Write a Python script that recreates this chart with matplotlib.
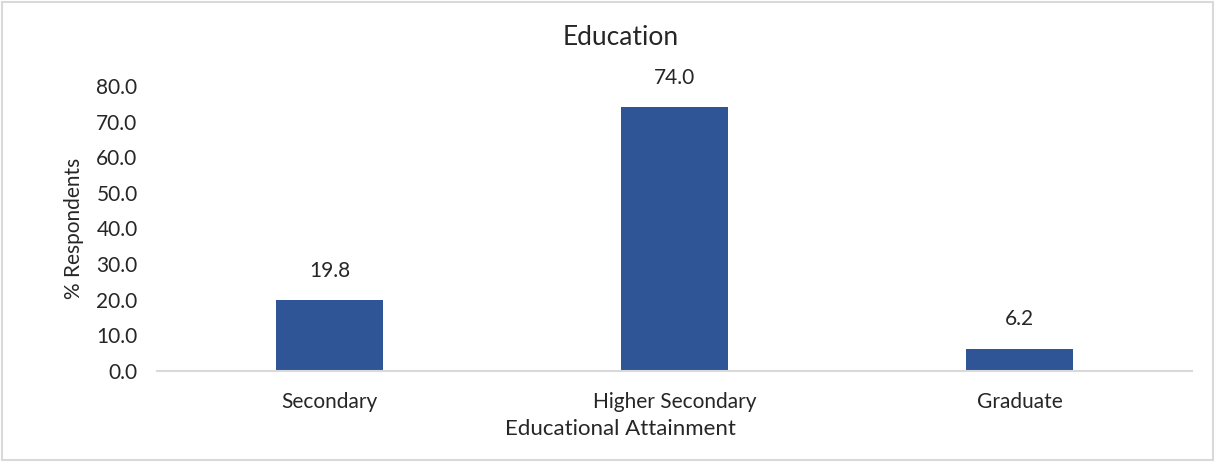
import matplotlib.pyplot as plt
from matplotlib.patches import Rectangle

# Education attainment data
categories = ['Secondary', 'Higher Secondary', 'Graduate']
percentages = [19.8, 74.0, 6.2]

plt.rcParams['font.family'] = ['Lato', 'DejaVu Sans']

fig = plt.figure(figsize=(12.17, 4.62), dpi=100)
ax = fig.add_axes([0.129, 0.197, 0.8505, 0.617])

# Bars
bars = ax.bar(range(len(categories)), percentages, width=0.31, color='#2F5597')

# Value labels above bars
for bar, val in zip(bars, percentages):
    ax.annotate(f'{val:.1f}', (bar.get_x() + bar.get_width() / 2, val),
                xytext=(0, 14), textcoords='offset points',
                ha='center', va='bottom', fontsize=15, color='#262626')

ax.set_xlim(-0.5, len(categories) - 0.5)
ax.set_ylim(0, 80)
ax.set_yticks(range(0, 81, 10))
ax.set_yticklabels([f'{v:.1f}' for v in range(0, 81, 10)])
ax.set_xticks(range(len(categories)))
ax.set_xticklabels(categories)
ax.tick_params(axis='both', length=0, labelsize=15, labelcolor='#262626')
ax.tick_params(axis='x', pad=15)
ax.tick_params(axis='y', pad=14)

for side in ['top', 'right', 'left']:
    ax.spines[side].set_visible(False)
ax.spines['bottom'].set_color('#D9D9D9')
ax.spines['bottom'].set_linewidth(1.5)

# Title and axis labels
fig.text(0.51, 0.918, 'Education', ha='center', va='center', fontsize=19, color='#262626')
fig.text(0.51, 0.072, 'Educational Attainment', ha='center', va='center', fontsize=16, color='#262626')
fig.text(0.061, 0.505, '% Respondents', ha='center', va='center', rotation=90, fontsize=15, color='#262626')

# Chart border
fig.patches.append(Rectangle((0.002, 0.005), 0.995, 0.99, transform=fig.transFigure,
                             fill=False, edgecolor='#D9D9D9', linewidth=1.5))

fig.savefig('out.png', dpi=100)
